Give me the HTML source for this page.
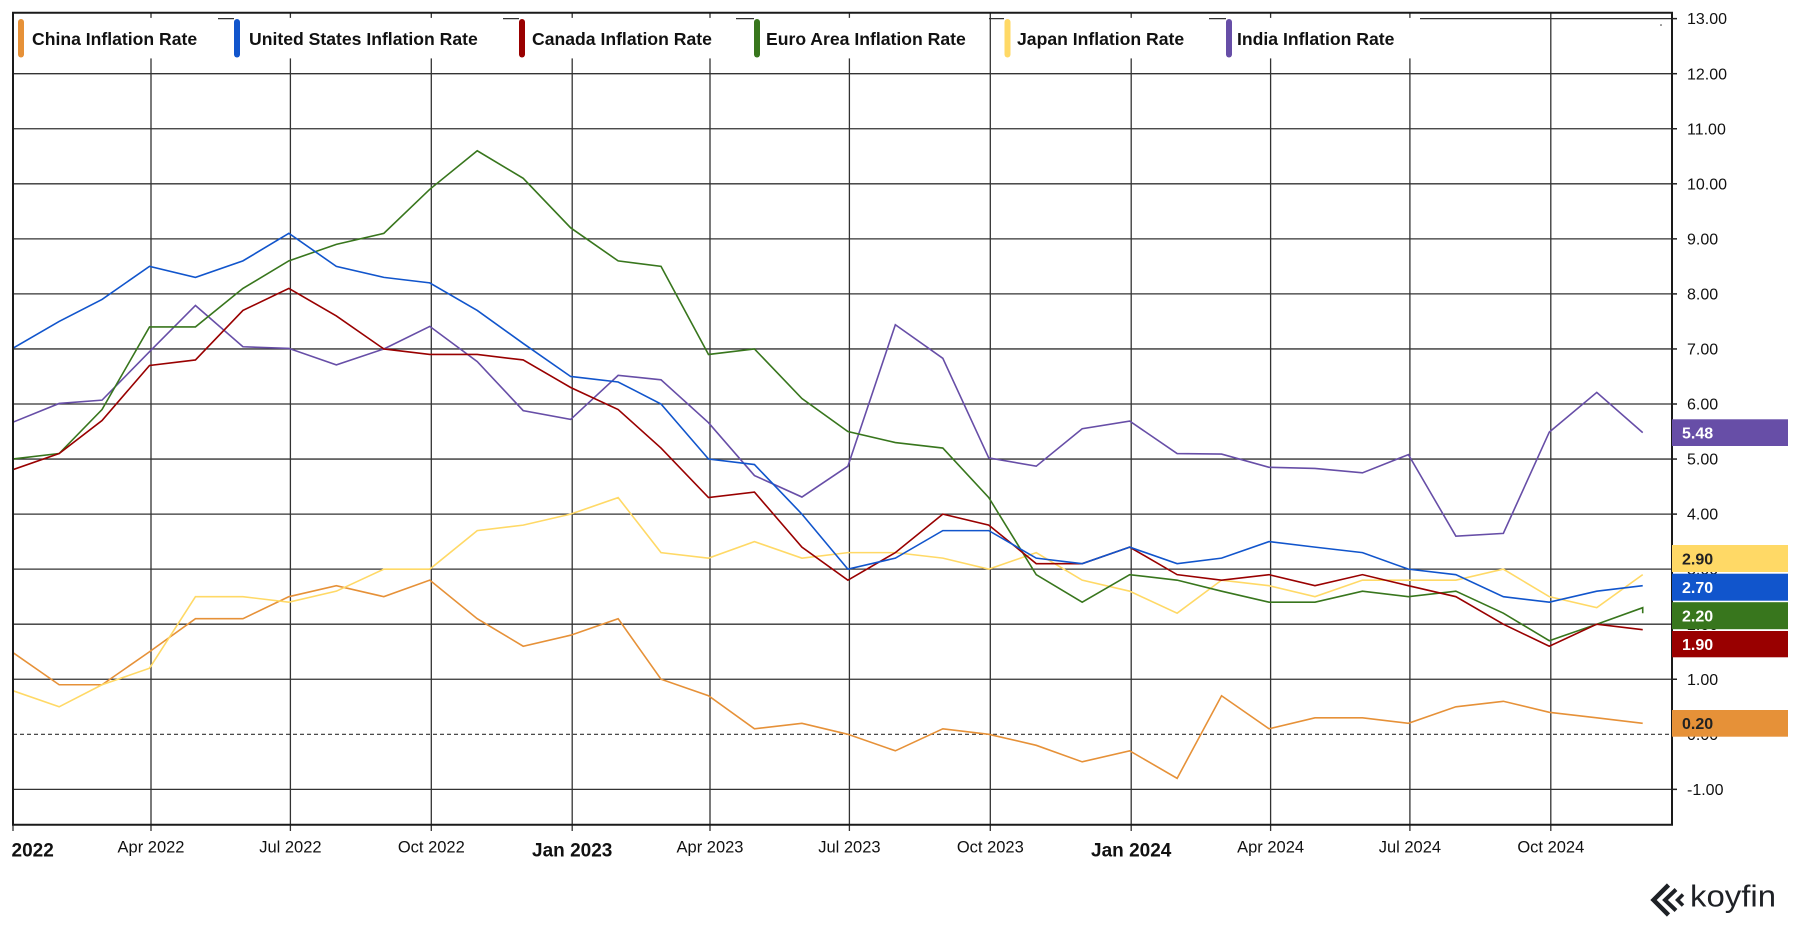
<!DOCTYPE html>
<html>
<head>
<meta charset="utf-8">
<style>
  html, body { margin: 0; padding: 0; background: #ffffff; }
  body { width: 1800px; height: 930px; overflow: hidden; }
  svg { display: block; }
  text { font-family: "Liberation Sans", sans-serif; }
</style>
</head>
<body>
<svg width="1800" height="930" viewBox="0 0 1800 930" xmlns="http://www.w3.org/2000/svg">
  <defs>
    <clipPath id="plot">
      <rect x="13" y="12.7" width="1659" height="812"/>
    </clipPath>
  </defs>
  <rect x="0" y="0" width="1800" height="930" fill="#ffffff"/>

  <!-- horizontal gridlines -->
  <g stroke="#333" stroke-width="1.3">
    <line x1="13" y1="18.65" x2="1672" y2="18.65"/>
    <line x1="13" y1="73.7" x2="1672" y2="73.7"/>
    <line x1="13" y1="128.75" x2="1672" y2="128.75"/>
    <line x1="13" y1="183.8" x2="1672" y2="183.8"/>
    <line x1="13" y1="238.85" x2="1672" y2="238.85"/>
    <line x1="13" y1="293.9" x2="1672" y2="293.9"/>
    <line x1="13" y1="348.95" x2="1672" y2="348.95"/>
    <line x1="13" y1="404" x2="1672" y2="404"/>
    <line x1="13" y1="459.05" x2="1672" y2="459.05"/>
    <line x1="13" y1="514.1" x2="1672" y2="514.1"/>
    <line x1="13" y1="569.15" x2="1672" y2="569.15"/>
    <line x1="13" y1="624.2" x2="1672" y2="624.2"/>
    <line x1="13" y1="679.25" x2="1672" y2="679.25"/>
    <line x1="13" y1="789.35" x2="1672" y2="789.35"/>
  </g>
  <line x1="13" y1="734.3" x2="1672" y2="734.3" stroke="#333" stroke-width="1.2" stroke-dasharray="4 3"/>

  <!-- vertical gridlines -->
  <g stroke="#333" stroke-width="1.3">
    <line x1="151" y1="12.7" x2="151" y2="831"/>
    <line x1="290.4" y1="12.7" x2="290.4" y2="831"/>
    <line x1="431.3" y1="12.7" x2="431.3" y2="831"/>
    <line x1="572.2" y1="12.7" x2="572.2" y2="831"/>
    <line x1="710" y1="12.7" x2="710" y2="831"/>
    <line x1="849.4" y1="12.7" x2="849.4" y2="831"/>
    <line x1="990.3" y1="12.7" x2="990.3" y2="831"/>
    <line x1="1131.2" y1="12.7" x2="1131.2" y2="831"/>
    <line x1="1270.6" y1="12.7" x2="1270.6" y2="831"/>
    <line x1="1409.9" y1="12.7" x2="1409.9" y2="831"/>
    <line x1="1550.8" y1="12.7" x2="1550.8" y2="831"/>
    <line x1="13" y1="824" x2="13" y2="831"/>
  </g>

  <!-- series -->
  <g clip-path="url(#plot)">
    <g transform="translate(13.2,734.3) scale(1.5315,-55.05)" fill="none" stroke-width="1.6">
      <polyline vector-effect="non-scaling-stroke" stroke="#e69138" points="-1,1.5 30,0.9 58,0.9 89,1.5 119,2.1 150,2.1 180,2.5 211,2.7 242,2.5 272,2.8 303,2.1 333,1.6 364,1.8 395,2.1 423,1.0 454,0.7 484,0.1 515,0.2 545,0 576,-0.3 607,0.1 637,0 668,-0.2 698,-0.5 729,-0.3 760,-0.8 789,0.7 820,0.1 850,0.3 881,0.3 911,0.2 942,0.5 973,0.6 1003,0.4 1034,0.3 1064,0.2"/>
      <polyline vector-effect="non-scaling-stroke" stroke="#ffd966" points="-1,0.8 30,0.5 58,0.9 89,1.2 119,2.5 150,2.5 180,2.4 211,2.6 242,3.0 272,3.0 303,3.7 333,3.8 364,4.0 395,4.3 423,3.3 454,3.2 484,3.5 515,3.2 545,3.3 576,3.3 607,3.2 637,3.0 668,3.3 698,2.8 729,2.6 760,2.2 789,2.8 820,2.7 850,2.5 881,2.8 911,2.8 942,2.8 973,3.0 1003,2.5 1034,2.3 1064,2.9"/>
      <polyline vector-effect="non-scaling-stroke" stroke="#674ea7" points="-1,5.66 30,6.01 58,6.07 89,6.95 119,7.79 150,7.04 180,7.01 211,6.71 242,7.0 272,7.41 303,6.77 333,5.88 364,5.72 395,6.52 423,6.44 454,5.66 484,4.7 515,4.31 545,4.87 576,7.44 607,6.83 637,5.02 668,4.87 698,5.55 729,5.69 760,5.1 789,5.09 820,4.85 850,4.83 881,4.75 911,5.08 942,3.6 973,3.65 1003,5.49 1034,6.21 1064,5.48"/>
      <polyline vector-effect="non-scaling-stroke" stroke="#38761d" points="-1,5.0 30,5.1 58,5.9 89,7.4 119,7.4 150,8.1 180,8.6 211,8.9 242,9.1 272,9.9 303,10.6 333,10.1 364,9.2 395,8.6 423,8.5 454,6.9 484,7.0 515,6.1 545,5.5 576,5.3 607,5.2 637,4.3 668,2.9 698,2.4 729,2.9 760,2.8 789,2.6 820,2.4 850,2.4 881,2.6 911,2.5 942,2.6 973,2.2 1003,1.7 1034,2.0 1064,2.3 1064,2.2"/>
      <polyline vector-effect="non-scaling-stroke" stroke="#990000" points="-1,4.8 30,5.1 58,5.7 89,6.7 119,6.8 150,7.7 180,8.1 211,7.6 242,7.0 272,6.9 303,6.9 333,6.8 364,6.3 395,5.9 423,5.2 454,4.3 484,4.4 515,3.4 545,2.8 576,3.3 607,4.0 637,3.8 668,3.1 698,3.1 729,3.4 760,2.9 789,2.8 820,2.9 850,2.7 881,2.9 911,2.7 942,2.5 973,2.0 1003,1.6 1034,2.0 1064,1.9"/>
      <polyline vector-effect="non-scaling-stroke" stroke="#1155cc" points="-1,7.0 30,7.5 58,7.9 89,8.5 119,8.3 150,8.6 180,9.1 211,8.5 242,8.3 272,8.2 303,7.7 333,7.1 364,6.5 395,6.4 423,6.0 454,5.0 484,4.9 515,4.0 545,3.0 576,3.2 607,3.7 637,3.7 668,3.2 698,3.1 729,3.4 760,3.1 789,3.2 820,3.5 850,3.4 881,3.3 911,3.0 942,2.9 973,2.5 1003,2.4 1034,2.6 1064,2.7"/>
    </g>
  </g>

  <!-- legend -->
  <g>
    <rect x="14" y="17.9" width="204" height="40.5" fill="#fff"/>
    <rect x="234" y="17.9" width="269" height="40.5" fill="#fff"/>
    <rect x="519" y="17.9" width="217" height="40.5" fill="#fff"/>
    <rect x="754" y="17.9" width="235" height="40.5" fill="#fff"/>
    <rect x="1004" y="17.9" width="205" height="40.5" fill="#fff"/>
    <rect x="1226" y="17.9" width="194" height="40.5" fill="#fff"/>

    <rect x="18" y="19" width="6" height="38.5" rx="3" fill="#e69138"/>
    <rect x="234" y="19" width="6" height="38.5" rx="3" fill="#1155cc"/>
    <rect x="519" y="19" width="6" height="38.5" rx="3" fill="#990000"/>
    <rect x="754" y="19" width="6" height="38.5" rx="3" fill="#38761d"/>
    <rect x="1004.5" y="19" width="6" height="38.5" rx="3" fill="#ffd966"/>
    <rect x="1226" y="19" width="6" height="38.5" rx="3" fill="#674ea7"/>

    <g font-size="17.6" font-weight="bold" fill="#111">
      <text x="32" y="45">China Inflation Rate</text>
      <text x="249" y="45">United States Inflation Rate</text>
      <text x="532" y="45">Canada Inflation Rate</text>
      <text x="766" y="45">Euro Area Inflation Rate</text>
      <text x="1017" y="45">Japan Inflation Rate</text>
      <text x="1237" y="45">India Inflation Rate</text>
    </g>
  </g>

  <!-- frame -->
  <g stroke="#1a1a1a" stroke-width="2" fill="none">
    <line x1="12" y1="12.7" x2="1673" y2="12.7"/>
    <line x1="13" y1="12" x2="13" y2="825.5"/>
    <line x1="12" y1="824.7" x2="1673" y2="824.7"/>
    <line x1="1672" y1="12" x2="1672" y2="825.5"/>
  </g>
  <circle cx="1661" cy="25" r="0.8" fill="#333"/>

  <!-- right axis ticks -->
  <g stroke="#222" stroke-width="1.5">
    <line x1="1672" y1="18.65" x2="1677" y2="18.65"/>
    <line x1="1672" y1="73.7" x2="1677" y2="73.7"/>
    <line x1="1672" y1="128.75" x2="1677" y2="128.75"/>
    <line x1="1672" y1="183.8" x2="1677" y2="183.8"/>
    <line x1="1672" y1="238.85" x2="1677" y2="238.85"/>
    <line x1="1672" y1="293.9" x2="1677" y2="293.9"/>
    <line x1="1672" y1="348.95" x2="1677" y2="348.95"/>
    <line x1="1672" y1="404" x2="1677" y2="404"/>
    <line x1="1672" y1="459.05" x2="1677" y2="459.05"/>
    <line x1="1672" y1="514.1" x2="1677" y2="514.1"/>
    <line x1="1672" y1="569.15" x2="1677" y2="569.15"/>
    <line x1="1672" y1="624.2" x2="1677" y2="624.2"/>
    <line x1="1672" y1="679.25" x2="1677" y2="679.25"/>
    <line x1="1672" y1="734.3" x2="1677" y2="734.3"/>
    <line x1="1672" y1="789.35" x2="1677" y2="789.35"/>
  </g>

  <!-- right axis labels -->
  <g font-size="16" fill="#111">
    <text x="1687" y="24.2">13.00</text>
    <text x="1687" y="79.3">12.00</text>
    <text x="1687" y="134.3">11.00</text>
    <text x="1687" y="189.4">10.00</text>
    <text x="1687" y="244.4">9.00</text>
    <text x="1687" y="299.5">8.00</text>
    <text x="1687" y="354.5">7.00</text>
    <text x="1687" y="409.6">6.00</text>
    <text x="1687" y="464.6">5.00</text>
    <text x="1687" y="519.7">4.00</text>
    <text x="1687" y="574.7">3.00</text>
    <text x="1687" y="629.8">2.00</text>
    <text x="1687" y="684.8">1.00</text>
    <text x="1687" y="739.9">0.00</text>
    <text x="1687" y="794.9">-1.00</text>
  </g>

  <!-- value boxes -->
  <g font-size="16" font-weight="bold">
    <rect x="1672" y="419.3" width="116" height="26.7" fill="#674ea7"/>
    <text x="1682" y="438.5" fill="#fff">5.48</text>
    <rect x="1672" y="545" width="116" height="27" fill="#ffd966"/>
    <text x="1682" y="564.3" fill="#222">2.90</text>
    <rect x="1672" y="573.7" width="116" height="27" fill="#1155cc"/>
    <text x="1682" y="593" fill="#fff">2.70</text>
    <rect x="1672" y="602.2" width="116" height="27" fill="#38761d"/>
    <text x="1682" y="621.5" fill="#fff">2.20</text>
    <rect x="1672" y="631" width="116" height="26.3" fill="#990000"/>
    <text x="1682" y="650" fill="#fff">1.90</text>
    <rect x="1672" y="710" width="116" height="26.7" fill="#e69138"/>
    <text x="1682" y="729.2" fill="#222">0.20</text>
  </g>

  <!-- x axis labels -->
  <g font-size="16.5" fill="#111" text-anchor="middle">
    <text x="151" y="852.3">Apr 2022</text>
    <text x="290.4" y="852.3">Jul 2022</text>
    <text x="431.3" y="852.3">Oct 2022</text>
    <text x="710" y="852.3">Apr 2023</text>
    <text x="849.4" y="852.3">Jul 2023</text>
    <text x="990.3" y="852.3">Oct 2023</text>
    <text x="1270.6" y="852.3">Apr 2024</text>
    <text x="1409.9" y="852.3">Jul 2024</text>
    <text x="1550.8" y="852.3">Oct 2024</text>
  </g>
  <g font-size="19" font-weight="bold" fill="#111">
    <text x="11.5" y="856.7">2022</text>
    <text x="572.2" y="856.7" text-anchor="middle">Jan 2023</text>
    <text x="1131.2" y="856.7" text-anchor="middle">Jan 2024</text>
  </g>

  <!-- koyfin logo -->
  <g fill="none" stroke="#1e2126" stroke-linejoin="miter">
    <path d="M1668.5 885 L1653.5 900 L1668.5 915" stroke-width="4.5"/>
    <path d="M1676 889.5 L1665 900 L1676 910.5" stroke-width="4"/>
    <path d="M1683 894.5 L1677.5 900 L1683 905.5" stroke-width="3.5"/>
  </g>
  <text x="1690" y="906.7" font-size="31" fill="#1e2126" textLength="86" lengthAdjust="spacingAndGlyphs">koyfin</text>
</svg>
</body>
</html>
